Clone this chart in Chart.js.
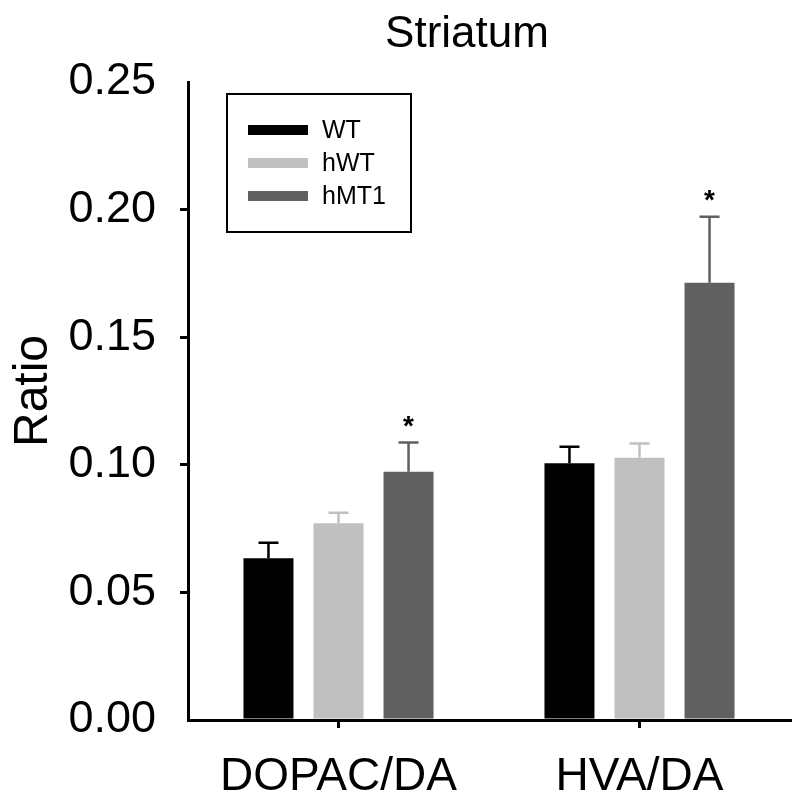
<html lang="en">
  <head>
    <meta charset="UTF-8" />
    <script src="https://cdn.jsdelivr.net/npm/chart.js"></script>
    <title>Striatum</title>
    <style>
      body { margin: 0; background: #fff; }
      #wrap { width: 800px; height: 809px; position: relative; }
    </style>
  </head>
  <body>
    <div id="wrap">
      <canvas id="ratioChart"></canvas>
    </div>
    <script>
        // data
        const categories = ['DOPAC/DA', 'HVA/DA'];
        const groups = ['WT', 'hWT', 'hMT1'];
        const wtMeans = [0.0634, 0.1006];
        const hwtMeans = [0.0771, 0.1028];
        const hmt1Means = [0.0973, 0.1713];
        const wtErr = [0.0061, 0.0065];
        const hwtErr = [0.0041, 0.0055];
        const hmt1Err = [0.0114, 0.0259];
        const hmt1Star = [true, true];
        const yTicks = [0, 0.05, 0.10, 0.15, 0.20, 0.25];

        const colors = ['#000000', '#c0c0c0', '#606060'];
        const fontFamily = '"Liberation Sans", Arial, sans-serif';

        // error bars (upper only) + significance stars
        const errorBarPlugin = {
            id: 'errorBars',
            afterDatasetsDraw(chart) {
                const ctx = chart.ctx;
                const y = chart.scales.y;
                chart.data.datasets.forEach((ds, di) => {
                    const meta = chart.getDatasetMeta(di);
                    meta.data.forEach((bar, i) => {
                        const top = y.getPixelForValue(ds.data[i] + ds.err[i]);
                        const base = y.getPixelForValue(ds.data[i]);
                        ctx.save();
                        ctx.strokeStyle = ds.backgroundColor;
                        ctx.lineWidth = 2.5;
                        ctx.beginPath();
                        ctx.moveTo(bar.x, base);
                        ctx.lineTo(bar.x, top);
                        ctx.moveTo(bar.x - 10, top);
                        ctx.lineTo(bar.x + 10, top);
                        ctx.stroke();
                        if (ds.stars && ds.stars[i]) {
                            ctx.fillStyle = '#000';
                            ctx.font = 'bold 28px ' + fontFamily;
                            ctx.textAlign = 'center';
                            ctx.textBaseline = 'alphabetic';
                            ctx.fillText('*', bar.x, top - 8);
                        }
                        ctx.restore();
                    });
                });
            }
        };

        // title, y axis label and the boxed legend
        const decorPlugin = {
            id: 'decor',
            afterDraw(chart) {
                const ctx = chart.ctx;
                ctx.save();
                ctx.fillStyle = '#000';
                ctx.font = '44px ' + fontFamily;
                ctx.textAlign = 'center';
                ctx.textBaseline = 'alphabetic';
                ctx.fillText('Striatum', 467, 47);

                ctx.translate(47, 391);
                ctx.rotate(-Math.PI / 2);
                ctx.font = '48px ' + fontFamily;
                ctx.fillText('Ratio', 0, 0);
                ctx.restore();

                // legend box
                ctx.save();
                ctx.strokeStyle = '#000';
                ctx.lineWidth = 2;
                ctx.strokeRect(227, 94, 184, 138);
                ctx.font = '25px ' + fontFamily;
                ctx.textAlign = 'left';
                ctx.textBaseline = 'middle';
                chart.data.datasets.forEach((ds, i) => {
                    const cy = 130 + i * 33;
                    ctx.fillStyle = ds.backgroundColor;
                    ctx.fillRect(248, cy - 5, 60, 10);
                    ctx.fillStyle = '#000';
                    ctx.fillText(ds.label, 322, cy + 1);
                });
                ctx.restore();
            }
        };

        const hideEnds = c => (c.tick && (c.tick.value >= 0.25 || c.tick.value <= 0)) ? 'rgba(0,0,0,0)' : '#000';

        const chart = new Chart(document.getElementById('ratioChart'), {
            type: 'bar',
            data: {
                labels: categories,
                datasets: [
                    { label: groups[0], data: wtMeans, err: wtErr, backgroundColor: colors[0] },
                    { label: groups[1], data: hwtMeans, err: hwtErr, backgroundColor: colors[1] },
                    { label: groups[2], data: hmt1Means, err: hmt1Err, stars: hmt1Star, backgroundColor: colors[2] }
                ]
            },
            options: {
                responsive: true,
                maintainAspectRatio: false,
                animation: false,
                categoryPercentage: 0.698,
                barPercentage: 0.714,
                layout: { padding: { left: 0, top: 82, right: 10, bottom: 0 } },
                plugins: {
                    legend: { display: false },
                    title: { display: false },
                    tooltip: { enabled: false }
                },
                scales: {
                    x: {
                        afterFit(scale) { scale.height = 89; },
                        grid: {
                            offset: false,
                            drawOnChartArea: false,
                            drawTicks: true,
                            tickLength: 8,
                            lineWidth: 3,
                            color: '#000'
                        },
                        border: { display: true, color: '#000', width: 3 },
                        ticks: {
                            color: '#000',
                            padding: 22,
                            font: { family: fontFamily, size: 46 }
                        }
                    },
                    y: {
                        min: 0,
                        max: 0.25,
                        afterFit(scale) { scale.width = 188; },
                        afterBuildTicks(scale) { scale.ticks = yTicks.map(v => ({ value: v })); },
                        grid: {
                            drawOnChartArea: false,
                            drawTicks: true,
                            tickLength: 8,
                            lineWidth: 3,
                            color: hideEnds
                        },
                        border: { display: true, color: '#000', width: 3 },
                        ticks: {
                            color: '#000',
                            padding: 24,
                            font: { family: fontFamily, size: 45 },
                            callback: v => Number(v).toFixed(2)
                        }
                    }
                }
            },
            plugins: [errorBarPlugin, decorPlugin]
        });
    </script>
  </body>
</html>
